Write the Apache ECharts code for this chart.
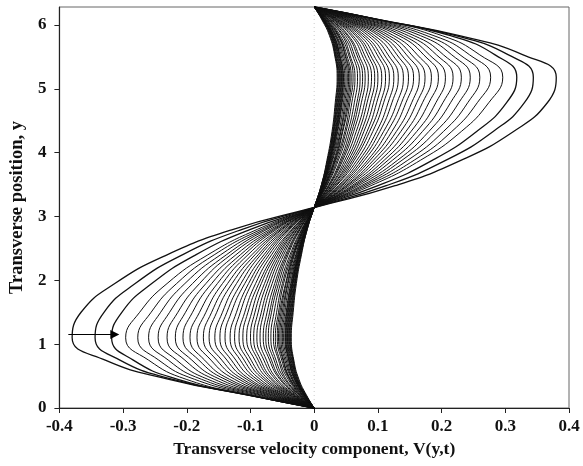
<!DOCTYPE html>
<html>
<head>
<meta charset="utf-8">
<script src="https://cdn.jsdelivr.net/npm/echarts@6/dist/echarts.min.js"></script>
<style>
  html, body { margin: 0; padding: 0; background: #fff; }
  #chart { width: 583px; height: 466px; }
</style>
</head>
<body>
<div id="chart"></div>
<script>
// Transverse position levels (lower lobe, 0 .. pi) at which each profile is sampled
const yLevels = [0, 0.2, 0.45, 0.75, 1.1, 1.5, 1.95, 2.4, 2.8, 3.1416];
const yTop = 6.2832;

// V(y,t) on the lower lobe, one row per time step (outermost profile first)
const profiles = [
  [0, -0.104, -0.228, -0.328, -0.380, -0.366, -0.313, -0.231, -0.127, 0],
  [0, -0.103, -0.222, -0.305, -0.344, -0.330, -0.281, -0.207, -0.113, 0],
  [0, -0.102, -0.214, -0.284, -0.318, -0.302, -0.255, -0.186, -0.100, 0],
  [0, -0.101, -0.201, -0.260, -0.296, -0.274, -0.231, -0.167, -0.089, 0],
  [0, -0.094, -0.188, -0.244, -0.277, -0.256, -0.216, -0.157, -0.083, 0],
  [0, -0.088, -0.177, -0.229, -0.260, -0.241, -0.203, -0.147, -0.078, 0],
  [0, -0.083, -0.167, -0.216, -0.245, -0.227, -0.191, -0.138, -0.074, 0],
  [0, -0.079, -0.157, -0.203, -0.231, -0.214, -0.180, -0.131, -0.069, 0],
  [0, -0.074, -0.148, -0.192, -0.218, -0.202, -0.170, -0.123, -0.065, 0],
  [0, -0.070, -0.140, -0.181, -0.206, -0.191, -0.161, -0.116, -0.062, 0],
  [0, -0.066, -0.133, -0.172, -0.195, -0.180, -0.152, -0.110, -0.059, 0],
  [0, -0.063, -0.125, -0.162, -0.184, -0.170, -0.144, -0.104, -0.055, 0],
  [0, -0.059, -0.118, -0.153, -0.174, -0.161, -0.136, -0.098, -0.052, 0],
  [0, -0.056, -0.112, -0.145, -0.165, -0.153, -0.129, -0.093, -0.050, 0],
  [0, -0.053, -0.106, -0.137, -0.156, -0.144, -0.122, -0.088, -0.047, 0],
  [0, -0.050, -0.101, -0.130, -0.148, -0.137, -0.115, -0.084, -0.044, 0],
  [0, -0.048, -0.095, -0.123, -0.140, -0.130, -0.109, -0.079, -0.042, 0],
  [0, -0.045, -0.090, -0.116, -0.132, -0.122, -0.103, -0.075, -0.040, 0],
  [0, -0.043, -0.085, -0.110, -0.125, -0.116, -0.098, -0.071, -0.038, 0],
  [0, -0.040, -0.080, -0.104, -0.118, -0.109, -0.092, -0.067, -0.035, 0],
  [0, -0.038, -0.076, -0.099, -0.112, -0.104, -0.087, -0.063, -0.034, 0],
  [0, -0.036, -0.072, -0.093, -0.106, -0.098, -0.083, -0.060, -0.032, 0],
  [0, -0.034, -0.068, -0.088, -0.100, -0.093, -0.078, -0.057, -0.030, 0],
  [0, -0.032, -0.065, -0.084, -0.095, -0.088, -0.074, -0.054, -0.029, 0],
  [0, -0.031, -0.061, -0.079, -0.090, -0.083, -0.070, -0.051, -0.027, 0],
  [0, -0.029, -0.058, -0.075, -0.085, -0.079, -0.066, -0.048, -0.026, 0],
  [0, -0.027, -0.054, -0.070, -0.080, -0.074, -0.062, -0.045, -0.024, 0],
  [0, -0.026, -0.052, -0.067, -0.076, -0.070, -0.059, -0.043, -0.023, 0],
  [0, -0.024, -0.049, -0.063, -0.072, -0.067, -0.056, -0.041, -0.022, 0],
  [0, -0.023, -0.046, -0.060, -0.068, -0.063, -0.053, -0.038, -0.020, 0],
  [0, -0.022, -0.044, -0.056, -0.064, -0.059, -0.050, -0.036, -0.019, 0],
  [0, -0.021, -0.041, -0.054, -0.061, -0.056, -0.048, -0.034, -0.018, 0],
  [0, -0.020, -0.039, -0.051, -0.058, -0.054, -0.045, -0.033, -0.017, 0],
  [0, -0.019, -0.038, -0.049, -0.056, -0.052, -0.044, -0.032, -0.017, 0],
  [0, -0.018, -0.037, -0.048, -0.054, -0.050, -0.042, -0.031, -0.016, 0],
  [0, -0.018, -0.035, -0.046, -0.052, -0.048, -0.041, -0.029, -0.016, 0],
  [0, -0.017, -0.034, -0.044, -0.050, -0.046, -0.039, -0.028, -0.015, 0],
  [0, -0.016, -0.033, -0.042, -0.048, -0.044, -0.037, -0.027, -0.014, 0],
  [0, -0.016, -0.031, -0.040, -0.046, -0.043, -0.036, -0.026, -0.014, 0],
  [0, -0.015, -0.031, -0.040, -0.045, -0.042, -0.035, -0.025, -0.014, 0],
  [0, -0.015, -0.030, -0.039, -0.044, -0.041, -0.034, -0.025, -0.013, 0],
  [0, -0.015, -0.029, -0.038, -0.043, -0.040, -0.034, -0.024, -0.013, 0],
  [0, -0.014, -0.029, -0.037, -0.042, -0.039, -0.033, -0.024, -0.013, 0],
  [0, -0.014, -0.028, -0.036, -0.041, -0.038, -0.032, -0.023, -0.012, 0],
  [0, -0.014, -0.027, -0.035, -0.040, -0.037, -0.031, -0.023, -0.012, 0],
  [0, -0.013, -0.027, -0.034, -0.039, -0.036, -0.030, -0.022, -0.012, 0],
  [0, -0.013, -0.026, -0.033, -0.038, -0.035, -0.030, -0.021, -0.011, 0],
  [0, -0.013, -0.025, -0.033, -0.037, -0.034, -0.029, -0.021, -0.011, 0],
  [0, -0.012, -0.024, -0.032, -0.036, -0.033, -0.028, -0.020, -0.011, 0]
];

// Arrow marking the direction of decay (start, end)
const arrowPath = [[-0.386, 1.15], [-0.313, 1.15]];

const xTicks = [-0.4, -0.3, -0.2, -0.1, 0, 0.1, 0.2, 0.3, 0.4];
const yTicks = [0, 1, 2, 3, 4, 5, 6];

const serif = '"Liberation Serif", "DejaVu Serif", serif';

// The upper lobe is the point reflection of the lower one about (0, pi)
function fullProfile(row) {
  const pts = yLevels.map((y, i) => [row[i], y]);
  for (let i = yLevels.length - 2; i >= 0; i--) {
    pts.push([-row[i], yTop - yLevels[i]]);
  }
  return pts;
}

const series = profiles.map((row, k) => ({
  type: 'line',
  data: fullProfile(row),
  showSymbol: false,
  smooth: 0.5,
  silent: true,
  lineStyle: { color: '#111', width: k < 3 ? 1.3 : 1.0 },
  z: 3
}));

// faint dotted zero line
series.push({
  type: 'line',
  data: [[0, 0], [0, yTop]],
  showSymbol: false,
  silent: true,
  lineStyle: { color: '#999', width: 1, type: [1, 3], opacity: 0.5 },
  z: 2
});

// arrow
series.push({
  type: 'lines',
  coordinateSystem: 'cartesian2d',
  data: [{ coords: arrowPath }],
  symbol: ['none', 'triangle'],
  symbolSize: [8, 9],
  silent: true,
  lineStyle: { color: '#000', width: 1.2, opacity: 1, curveness: 0 },
  itemStyle: { color: '#000', opacity: 1 },
  z: 5
});

const chart = echarts.init(document.getElementById('chart'));
chart.setOption({
  animation: false,
  backgroundColor: '#fff',
  grid: {
    left: 57, right: 14, top: 7, bottom: 58,
    show: true, borderColor: '#666', borderWidth: 1
  },
  xAxis: {
    type: 'value',
    min: -0.4, max: 0.4, interval: 0.1,
    name: 'Transverse velocity component, V(y,t)',
    nameLocation: 'middle',
    nameGap: 32,
    nameTextStyle: { fontFamily: serif, fontWeight: 'bold', fontSize: 17.5, color: '#111' },
    axisLine: { onZero: false, lineStyle: { color: '#222', width: 1.2 } },
    axisTick: { show: true, length: 5, lineStyle: { color: '#222' }, customValues: xTicks },
    axisLabel: {
      fontFamily: serif, fontWeight: 'bold', fontSize: 17, color: '#111', margin: 10,
      customValues: xTicks,
      formatter: v => String(Math.round(v * 10) / 10)
    },
    splitLine: { show: false }
  },
  yAxis: {
    type: 'value',
    min: 0, max: yTop,
    name: 'Transverse position, y',
    nameLocation: 'middle',
    nameGap: 30,
    nameTextStyle: { fontFamily: serif, fontWeight: 'bold', fontSize: 18.5, color: '#111' },
    axisLine: { onZero: false, lineStyle: { color: '#222', width: 1.2 } },
    axisTick: { show: true, length: 5, lineStyle: { color: '#222' }, customValues: yTicks },
    axisLabel: {
      fontFamily: serif, fontWeight: 'bold', fontSize: 17, color: '#111', margin: 13,
      customValues: yTicks
    },
    splitLine: { show: false }
  },
  series: series
});
</script>
</body>
</html>
